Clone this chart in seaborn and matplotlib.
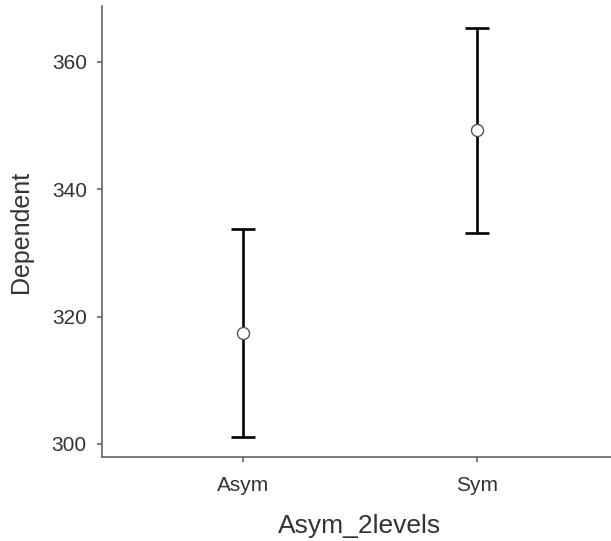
import numpy as np
import pandas as pd
import matplotlib
matplotlib.use('Agg')
import matplotlib.pyplot as plt
import seaborn as sns

# ── Data ─────────────────────────────────────────────────────
groups = ['Asym', 'Sym']
means  = [317.4, 349.3]
errs   = [16.3, 16.1]

y_ticks = [300, 320, 340, 360]

df = pd.DataFrame({'Asym_2levels': groups, 'Dependent': means})

# ── Style ────────────────────────────────────────────────────
sns.set_style('ticks')
plt.rcParams['font.family'] = ['Liberation Sans', 'DejaVu Sans']
text_col  = '#333333'
spine_col = '#666666'

fig = plt.figure(figsize=(6.11, 5.41), dpi=100)
ax = fig.add_axes([0.167, 0.155, 0.833, 0.834])

# points on top, error bars (mean ± error) underneath
sns.scatterplot(data=df, x='Asym_2levels', y='Dependent', ax=ax,
                s=75, color='white', edgecolor='#555555', linewidth=1,
                zorder=3)
ax.errorbar(np.arange(len(groups)), means, yerr=errs, fmt='none',
            ecolor='black', elinewidth=1.9, capsize=8.3, capthick=1.9, zorder=2)

ax.set_xlim(-0.6, 1.57)
ax.set_ylim(297.9, 368.8)
ax.set_yticks(y_ticks)

ax.set_xlabel('Asym_2levels', fontsize=19, color=text_col)
ax.set_ylabel('Dependent', fontsize=18, color=text_col)
ax.xaxis.set_label_coords(0.505, -0.125)
ax.yaxis.set_label_coords(-0.136, 0.5)
ax.tick_params(axis='both', labelsize=15, colors=spine_col, labelcolor=text_col,
               length=3.5, width=1.2, pad=7.5)
ax.tick_params(axis='x', pad=10)

sns.despine(ax=ax)
for side in ['left', 'bottom']:
    ax.spines[side].set_color(spine_col)
    ax.spines[side].set_linewidth(1.2)

plt.savefig('out.png', dpi=100)
